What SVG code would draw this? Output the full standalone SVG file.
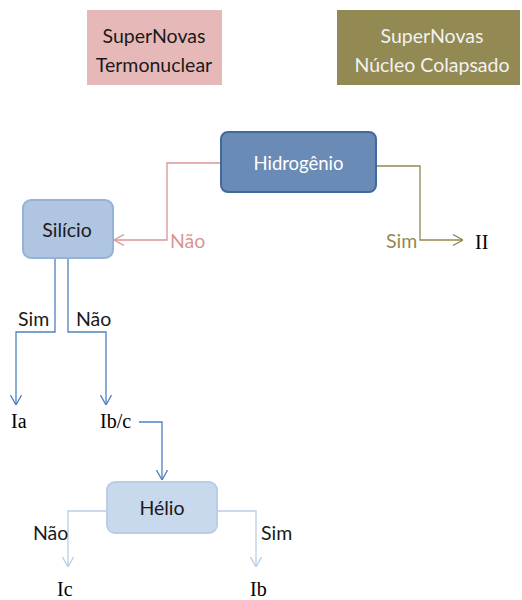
<svg xmlns="http://www.w3.org/2000/svg" width="522" height="600" viewBox="0 0 522 600">
<defs>
<style>
.sans{font-family:Lato,"Open Sans","Liberation Sans",sans-serif;}
.serif{font-family:"Liberation Serif","Times New Roman",serif;font-size:20px;fill:#000;}
.ln{fill:none;stroke-width:1.3;}
</style>
<marker id="aPink" viewBox="0 0 10 12" refX="10" refY="6" markerWidth="10" markerHeight="12" markerUnits="userSpaceOnUse" orient="auto"><path d="M0,0.5 L10,6 L0,11.5" fill="none" stroke="#d99694" stroke-width="1.3"/></marker>
<marker id="aOlive" viewBox="0 0 10 12" refX="10" refY="6" markerWidth="10" markerHeight="12" markerUnits="userSpaceOnUse" orient="auto"><path d="M0,0.5 L10,6 L0,11.5" fill="none" stroke="#938953" stroke-width="1.3"/></marker>
<marker id="aBlue" viewBox="0 0 10 12" refX="10" refY="6" markerWidth="10" markerHeight="12" markerUnits="userSpaceOnUse" orient="auto"><path d="M0,0.5 L10,6 L0,11.5" fill="none" stroke="#4f81bd" stroke-width="1.3"/></marker>
<marker id="aLight" viewBox="0 0 10 12" refX="10" refY="6" markerWidth="10" markerHeight="12" markerUnits="userSpaceOnUse" orient="auto"><path d="M0,0.5 L10,6 L0,11.5" fill="none" stroke="#b9cde5" stroke-width="1.3"/></marker>
</defs>
<rect width="522" height="600" fill="#fff"/>

<g id="legend-termonuclear">
<rect x="87" y="10" width="135" height="75" fill="#e6b9b8"/>
<text class="sans" x="154" y="43" font-size="19.5" fill="#1a1a1a" text-anchor="middle">SuperNovas</text>
<text class="sans" x="154" y="72" font-size="19.5" fill="#1a1a1a" text-anchor="middle">Termonuclear</text>
</g>

<g id="legend-colapsado">
<rect x="337" y="10" width="183" height="75" fill="#938953"/>
<text class="sans" x="432" y="43" font-size="19.5" fill="#f2f2f2" text-anchor="middle">SuperNovas</text>
<text class="sans" x="432" y="72" font-size="19.5" fill="#f2f2f2" text-anchor="middle">Núcleo Colapsado</text>
</g>

<g id="connectors">
<path class="ln" d="M221,163 H167 V240 H114" stroke="#d99694" marker-end="url(#aPink)"/>
<path class="ln" d="M376,166 H420 V240 H463" stroke="#938953" marker-end="url(#aOlive)"/>
<path class="ln" d="M55,258 V332 H16 V405" stroke="#4f81bd" marker-end="url(#aBlue)"/>
<path class="ln" d="M68,258 V332 H106 V405" stroke="#4f81bd" marker-end="url(#aBlue)"/>
<path class="ln" d="M139,422 H162 V480" stroke="#4f81bd" marker-end="url(#aBlue)"/>
<path class="ln" d="M107,511 H68 V567" stroke="#b9cde5" marker-end="url(#aLight)"/>
<path class="ln" d="M217,511 H256 V567" stroke="#b9cde5" marker-end="url(#aLight)"/>
<text class="sans" x="170" y="248" font-size="19.5" fill="#d99694">Não</text>
<text class="sans" x="386" y="248" font-size="19.5" fill="#938953">Sim</text>
<text class="sans" x="18" y="326" font-size="19.5" fill="#1a1a1a">Sim</text>
<text class="sans" x="76" y="326" font-size="19.5" fill="#1a1a1a">Não</text>
<text class="sans" x="33" y="540" font-size="19.5" fill="#1a1a1a">Não</text>
<text class="sans" x="261" y="540" font-size="19.5" fill="#1a1a1a">Sim</text>
</g>

<g id="hidrogenio">
<rect x="221" y="132" width="155" height="60" rx="7" fill="#6a8bb5" stroke="#43699b" stroke-width="2"/>
<text class="sans" x="298.5" y="170" font-size="18.5" fill="#fff" text-anchor="middle">Hidrogênio</text>
</g>

<g id="silicio">
<rect x="23" y="200" width="90" height="58" rx="8" fill="#b0c5e2" stroke="#95b3d7" stroke-width="2"/>
<text class="sans" x="67" y="237" font-size="19.5" fill="#1a1a1a" text-anchor="middle">Silício</text>
</g>

<g id="helio">
<rect x="107" y="482" width="110" height="51" rx="8" fill="#c8d8ed" stroke="#b9cde5" stroke-width="2"/>
<text class="sans" x="162" y="515" font-size="19.5" fill="#1a1a1a" text-anchor="middle">Hélio</text>
</g>

<g id="result-II"><text class="serif" x="475" y="249" font-size="21">II</text></g>
<g id="result-Ia"><text class="serif" x="11" y="428" font-size="21">Ia</text></g>
<g id="result-Ibc"><text class="serif" x="100" y="428" font-size="21">Ib/c</text></g>
<g id="result-Ic"><text class="serif" x="57" y="596" font-size="21">Ic</text></g>
<g id="result-Ib"><text class="serif" x="250" y="596" font-size="21">Ib</text></g>
</svg>
